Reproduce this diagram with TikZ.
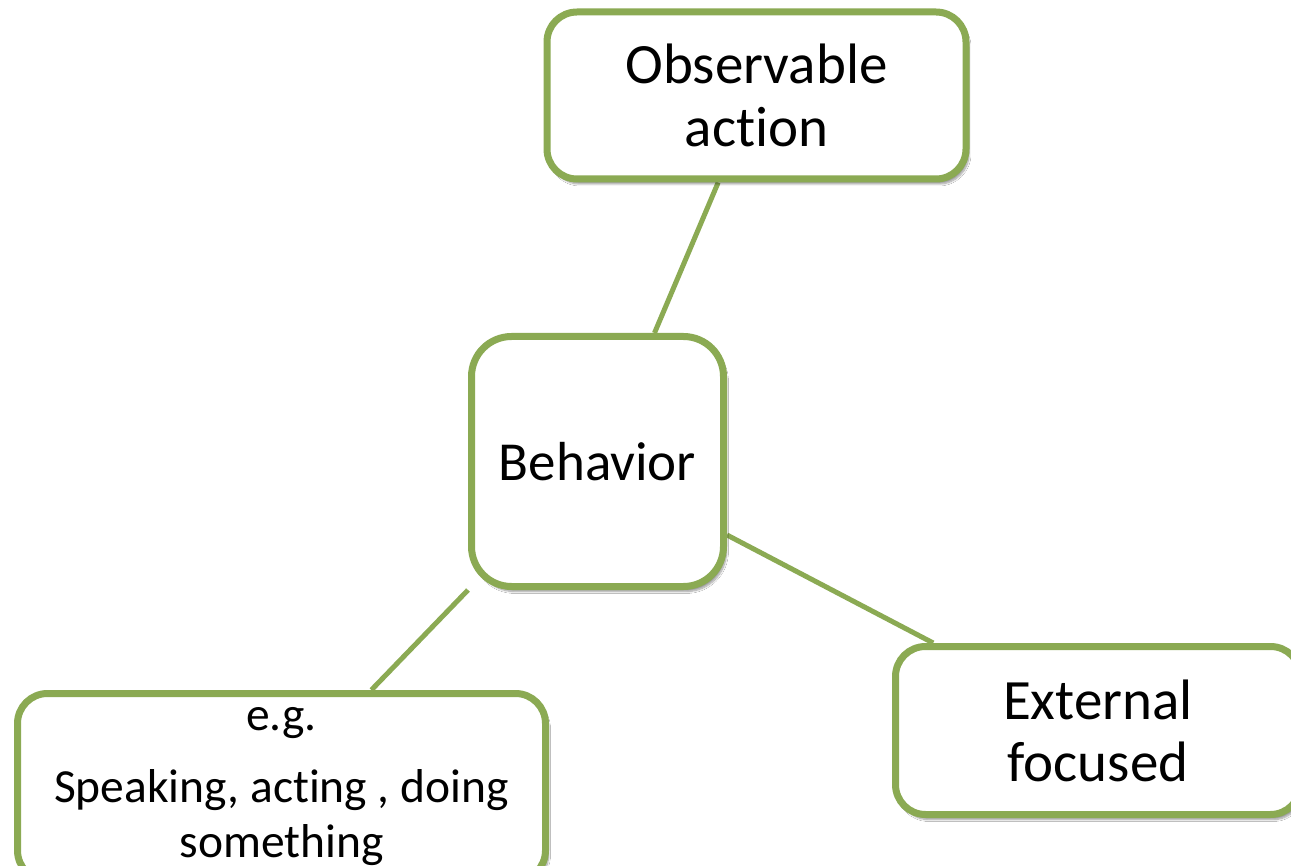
\documentclass[tikz,border=0pt]{standalone}
\usepackage{fontspec}
\setmainfont{Carlito}[RawFeature={-liga;-clig;-calt;-dlig}]
\usetikzlibrary{calc,shadows.blur,backgrounds}
\definecolor{olive}{RGB}{139,170,83}
\tikzset{
  box/.style={draw=olive, line width=7pt, fill=white, rounded corners=30pt,
    align=center, inner sep=0pt,
    blur shadow={shadow xshift=3pt, shadow yshift=-5pt, shadow opacity=40, shadow blur steps=8, shadow blur extra rounding=4pt}},
  conn/.style={draw=olive, line width=5pt}
}
\begin{document}
\begin{tikzpicture}[x=1pt,y=-1pt]
\useasboundingbox (0,0) rectangle (1291,866);
\clip (0,0) rectangle (1291,866);
\node[box, minimum width=419pt, minimum height=167pt, font=\fontsize{57}{63}\selectfont] (obs) at (756.5,95.5)
  {\raisebox{3pt}{\parbox{400pt}{\centering Observable\\ac\kern0pt tion}}};
\node[box, rounded corners=40pt, minimum width=252pt, minimum height=250pt, font=\fontsize{55}{63}\selectfont] (beh) at (597.5,461.5)
  {Behavior};
\node[box, minimum width=528pt, minimum height=187pt, font=\fontsize{47.5}{55}\selectfont] (eg) at (281.5,787)
  {\raisebox{2pt}{\parbox{520pt}{\centering e.g.\\[17pt]Speaking, ac\kern0pt ting , doing\\something}}};
\node[box, minimum width=405pt, minimum height=168pt, font=\fontsize{57}{62}\selectfont] (ext) at (1098,730.5)
  {External\\focused};
\begin{pgfonlayer}{background}
\fill[white] (0,0) rectangle (1291,866);
\draw[conn] ($(obs.south west)!0.41!(obs.south east)$) -- ($(beh.north west)!0.72!(beh.north east)$);
\draw[conn] ($(beh.north east)!0.786!(beh.south east)$) -- ($(ext.north west)!0.10!(ext.north east)$);
\draw[conn] (beh.south west) -- ($(eg.north west)!0.668!(eg.north east)$);
\end{pgfonlayer}
\end{tikzpicture}
\end{document}
